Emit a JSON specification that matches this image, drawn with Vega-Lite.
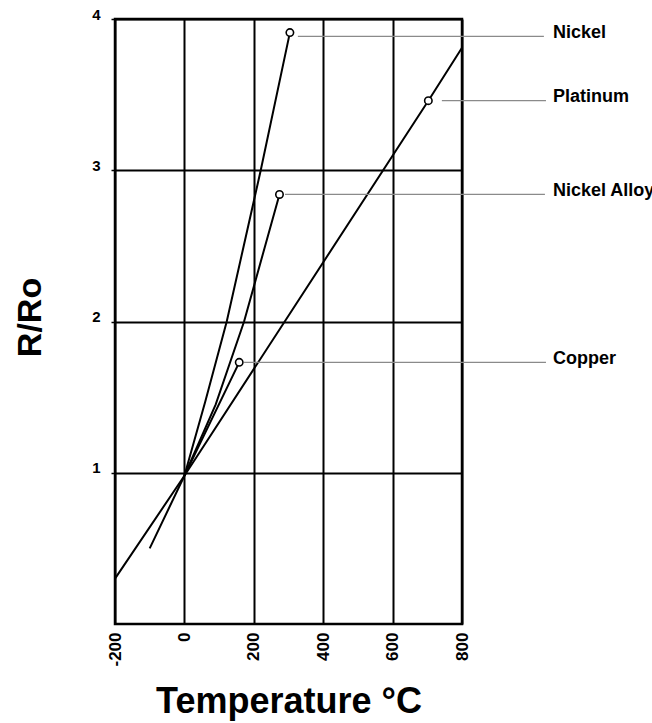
{
  "$schema": "https://vega.github.io/schema/vega-lite/v6.json",
  "autosize": {"type": "none"},
  "padding": {"left": 115, "top": 19, "right": 190, "bottom": 99},
  "width": 347,
  "height": 605,
  "background": "white",
  "config": {
    "font": "Liberation Sans",
    "view": {"stroke": "black", "strokeWidth": 2.5},
    "axis": {
      "domain": false,
      "grid": true,
      "gridColor": "black",
      "gridOpacity": 1,
      "gridWidth": 2,
      "labelFont": "Liberation Sans",
      "labelFontWeight": "bold",
      "labelColor": "black",
      "labelFlush": false,
      "labelOverlap": false,
      "titleFont": "Liberation Sans",
      "titleFontWeight": "bold",
      "titleColor": "black"
    }
  },
  "datasets": {
    "curves": [
      {"material": "Nickel", "T": 0, "R": 0.98},
      {"material": "Nickel", "T": 60, "R": 1.47},
      {"material": "Nickel", "T": 122, "R": 2.0},
      {"material": "Nickel", "T": 220, "R": 3.0},
      {"material": "Nickel", "T": 304, "R": 3.91},
      {"material": "Nickel Alloy", "T": 0, "R": 0.98},
      {"material": "Nickel Alloy", "T": 90, "R": 1.45},
      {"material": "Nickel Alloy", "T": 172, "R": 2.0},
      {"material": "Nickel Alloy", "T": 274, "R": 2.84},
      {"material": "Copper", "T": -100, "R": 0.5},
      {"material": "Copper", "T": 0, "R": 0.98},
      {"material": "Copper", "T": 158, "R": 1.73},
      {"material": "Platinum", "T": -200, "R": 0.3},
      {"material": "Platinum", "T": 0, "R": 0.98},
      {"material": "Platinum", "T": 703, "R": 3.46},
      {"material": "Platinum", "T": 800, "R": 3.81}
    ],
    "markers": [
      {"material": "Nickel", "T": 304, "R": 3.91},
      {"material": "Platinum", "T": 703, "R": 3.46},
      {"material": "Nickel Alloy", "T": 274, "R": 2.84},
      {"material": "Copper", "T": 158, "R": 1.73}
    ],
    "labels": [
      {"material": "Nickel", "T0": 327, "T1": 1036, "R": 3.885, "TL": 1062},
      {"material": "Platinum", "T0": 742, "T1": 1042, "R": 3.46, "TL": 1062},
      {"material": "Nickel Alloy", "T0": 290, "T1": 1039, "R": 2.84, "TL": 1062},
      {"material": "Copper", "T0": 172, "T1": 1042, "R": 1.73, "TL": 1062}
    ]
  },
  "encoding": {
    "x": {
      "type": "quantitative",
      "scale": {"domain": [-200, 800], "nice": false, "zero": false},
      "title": "Temperature °C",
      "axis": {
        "values": [-200, 0, 200, 400, 600, 800],
        "labelExpr": "'' + datum.value",
        "labelAngle": -90,
        "labelFontSize": 17,
        "labelPadding": 8,
        "ticks": false,
        "titleFontSize": 36,
        "titleY": 88,
        "titleBaseline": "alphabetic"
      }
    },
    "y": {
      "type": "quantitative",
      "scale": {"domain": [0, 4], "nice": false, "zero": false},
      "title": "R/Ro",
      "axis": {
        "values": [1, 2, 3, 4],
        "labelFontSize": 15,
        "tickSize": 4,
        "tickWidth": 1.5,
        "tickColor": "black",
        "labelPadding": 11,
        "labelBaseline": "alphabetic",
        "titleFontSize": 34,
        "titleAngle": -90,
        "titleX": -75,
        "titleY": 298,
        "titleBaseline": "alphabetic",
        "titleAlign": "center"
      }
    }
  },
  "layer": [
    {
      "data": {"name": "curves"},
      "mark": {"type": "line", "color": "black", "strokeWidth": 2},
      "encoding": {
        "x": {"field": "T"},
        "y": {"field": "R"},
        "detail": {"field": "material", "type": "nominal"}
      }
    },
    {
      "data": {"name": "labels"},
      "mark": {"type": "rule", "color": "#8a8a8a", "strokeWidth": 1.2},
      "encoding": {
        "x": {"field": "T0"},
        "x2": {"field": "T1"},
        "y": {"field": "R"}
      }
    },
    {
      "data": {"name": "markers"},
      "mark": {"type": "point", "shape": "circle", "filled": false, "fill": "white", "fillOpacity": 1, "stroke": "black", "strokeWidth": 1.6, "size": 55, "opacity": 1},
      "encoding": {
        "x": {"field": "T"},
        "y": {"field": "R"}
      }
    },
    {
      "data": {"name": "labels"},
      "mark": {"type": "text", "align": "left", "baseline": "alphabetic", "dy": 1.5, "font": "Liberation Sans", "fontWeight": "bold", "fontSize": 18, "color": "black"},
      "encoding": {
        "x": {"field": "TL"},
        "y": {"field": "R"},
        "text": {"field": "material", "type": "nominal"}
      }
    }
  ]
}
